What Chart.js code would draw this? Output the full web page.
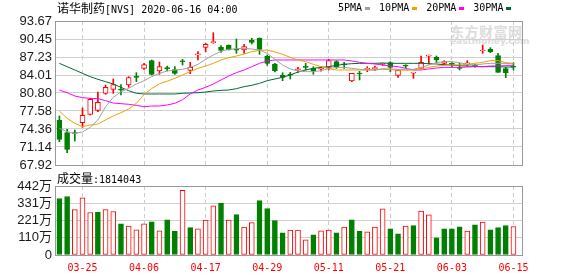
<!DOCTYPE html>
<html>
<head>
<meta charset="utf-8">
<script src="https://cdn.jsdelivr.net/npm/chart.js@4.4.1/dist/chart.umd.min.js"></script>
<style>
  body { margin: 0; background: #fff; }
  #wrap { position: relative; width: 578px; height: 276px; overflow: hidden; }
  canvas { position: absolute; left: 0; }
  #main { top: 0; }
  #vol { top: 174px; }
  .txt { position: absolute; white-space: nowrap; color: #000; }
  .cn { font-family: "Noto Sans CJK SC", sans-serif; font-size: 12px; }
  .mono { font-family: "DejaVu Sans Mono", monospace; font-size: 10px; }
  .sq { display: inline-block; width: 5px; height: 3px; vertical-align: middle; margin: 0 9px 0 3px; }
  #wm1 { left: 450px; top: 21px; font-family: "Noto Sans CJK SC"; font-weight: bold; font-size: 14px; color: #dcdcdc; letter-spacing: 0.5px; }
  #wm2 { left: 450px; top: 36px; font-family: "DejaVu Sans"; font-weight: bold; font-size: 9px; color: #dcdcdc; }
</style>
</head>
<body>
<div id="wrap">
  <div class="txt" id="wm1">东方财富网</div>
  <div class="txt" id="wm2">eastmoney.com</div>
  <canvas id="main" width="578" height="178"></canvas>
  <canvas id="vol" width="578" height="102"></canvas>
  <div class="txt" style="left:57px;top:0px;line-height:16px"><span class="cn">诺华制药</span><span class="mono">[NVS] 2020-06-16 04:00</span></div>
  <div class="txt mono" style="left:338px;top:2px;line-height:12px">5PMA<span class="sq" style="background:#a0a0a0"></span>10PMA<span class="sq" style="background:#f0a000"></span>20PMA<span class="sq" style="background:#ff00ff"></span>30PMA<span class="sq" style="background:#006a35"></span></div>
  <div class="txt" id="volLabel" style="left:57px;top:170px;line-height:16px"><span class="cn">成交量</span><span class="mono" id="volNum"></span></div>
</div>
<script>
// trading days shown on the chart
const dates = ['03-20','03-23','03-24','03-25','03-26','03-27','03-30','03-31','04-01','04-02',
  '04-03','04-06','04-07','04-08','04-09','04-13','04-14','04-15','04-16','04-17',
  '04-20','04-21','04-22','04-23','04-24','04-27','04-28','04-29','04-30','05-01',
  '05-04','05-05','05-06','05-07','05-08','05-11','05-12','05-13','05-14','05-15',
  '05-18','05-19','05-20','05-21','05-22','05-26','05-27','05-28','05-29','06-01',
  '06-02','06-03','06-04','06-05','06-08','06-09','06-10','06-11','06-12','06-15'];

const openP = [75.97,73.70,73.70,75.49,76.98,77.70,80.74,81.45,81.40,82.22,
  83.65,85.21,86.58,84.73,85.20,84.97,86.45,84.85,87.62,88.96,
  89.80,88.96,89.38,88.52,88.48,90.27,90.63,87.41,85.98,84.01,
  84.05,84.95,85.42,85.20,85.05,85.38,86.40,85.90,82.94,84.30,
  85.02,85.15,85.92,86.22,83.95,85.70,84.35,85.20,87.40,87.17,
  86.10,86.00,85.30,86.00,85.70,88.30,88.66,87.47,85.15,85.50];
const highP = [76.68,74.30,74.18,78.11,79.84,80.97,82.22,83.30,82.29,83.71,
  84.43,86.10,86.70,86.34,85.62,85.50,86.81,86.28,88.19,89.68,
  91.58,89.26,89.38,90.45,89.50,90.57,90.63,87.59,86.10,84.43,
  84.49,85.38,86.10,85.50,85.50,86.81,86.58,86.30,84.31,84.67,
  85.50,85.62,86.15,86.40,84.91,85.85,84.43,87.41,87.59,87.41,
  86.58,86.22,86.10,86.58,85.90,89.38,88.90,87.89,85.38,86.22];
const lowP = [72.09,70.13,72.21,74.66,76.86,77.46,80.56,80.74,80.44,81.81,
  82.82,85.03,84.01,84.13,84.73,84.13,85.80,84.25,86.70,88.19,
  89.68,88.07,88.48,87.89,87.89,89.56,87.71,85.74,84.55,83.00,
  83.30,84.43,84.91,84.13,84.70,84.91,85.20,85.20,82.82,83.12,
  84.61,84.79,85.70,84.61,83.60,85.30,83.42,85.20,85.98,86.22,
  85.90,85.50,84.91,85.62,85.40,87.89,88.01,84.49,83.54,84.91];
const closeP = [72.51,70.72,73.55,76.80,79.66,79.12,81.81,82.29,81.30,83.54,
  83.58,85.86,84.13,85.50,85.15,84.31,86.38,85.38,87.72,89.50,
  89.86,88.42,88.48,88.46,89.08,89.85,88.60,86.10,84.79,83.60,
  84.00,85.02,85.38,84.79,85.12,86.58,85.50,85.85,84.30,84.20,
  85.08,85.20,86.00,85.38,84.91,85.60,84.43,86.28,87.47,86.70,
  86.40,85.90,85.20,86.10,85.60,88.37,88.19,84.49,84.43,85.40];

// volume in 万 (10k shares)
const volume = [362,375,291,366,272,274,291,278,200,185,
  162,200,213,155,226,151,414,175,168,224,
  315,332,224,259,179,207,349,298,220,142,
  160,160,97,129,155,160,142,179,226,151,
  149,179,295,168,136,185,188,282,257,110,
  168,168,181,153,194,211,162,175,188,181.4043];
const lastVolume = 1814043;

const ma5 = [74.47,73.88,73.58,73.82,74.66,75.97,78.35,80.02,81.03,81.63,
  82.40,83.00,83.71,84.31,84.73,84.91,85.03,85.38,85.92,86.82,
  87.59,88.25,88.60,88.72,88.78,88.66,88.48,87.89,86.82,85.80,
  85.09,84.73,84.61,84.61,84.79,85.15,85.38,85.38,85.20,85.03,
  84.91,84.91,85.15,85.09,85.03,85.03,85.03,85.38,85.80,86.22,
  86.40,86.40,86.22,85.92,85.80,85.98,86.10,86.10,86.10,85.98];
const ma10 = [77.58,76.26,75.37,74.77,75.07,75.25,75.97,76.68,77.28,77.93,
  78.95,80.50,81.60,82.45,82.90,83.42,84.01,84.61,85.20,85.62,
  86.10,86.70,87.11,87.41,87.77,88.19,88.42,88.48,88.13,87.71,
  87.17,86.70,86.40,85.92,85.50,85.15,84.91,84.91,84.91,84.91,
  84.91,84.91,85.03,84.97,84.91,84.85,84.91,85.09,85.38,85.62,
  85.74,85.80,85.80,85.92,86.10,86.28,86.58,86.58,86.22,86.10];
const ma20 = [81.33,80.85,80.26,79.96,79.84,79.78,79.42,79.00,78.89,78.77,
  78.59,78.35,78.47,78.47,78.65,78.95,79.60,80.62,81.33,81.81,
  82.40,83.12,83.83,84.43,84.91,85.50,86.10,86.52,86.70,86.70,
  86.70,86.70,86.70,86.70,86.70,86.70,86.70,86.70,86.52,86.28,
  86.10,85.98,85.80,85.62,85.50,85.20,84.91,84.91,85.09,85.27,
  85.38,85.38,85.38,85.44,85.50,85.50,85.62,85.62,85.68,85.68];
const ma30 = [86.10,85.50,84.91,84.31,83.71,83.24,82.82,82.40,81.81,81.21,
  80.74,80.62,80.62,80.62,80.62,80.62,80.74,80.80,80.85,80.97,
  81.15,81.27,81.33,81.57,81.93,82.17,82.52,83.00,83.30,83.60,
  84.01,84.55,84.91,85.20,85.38,85.50,85.74,85.92,86.04,86.10,
  86.10,86.10,86.16,86.10,86.10,86.10,86.10,86.10,86.04,85.98,
  85.86,85.80,85.68,85.62,85.56,85.50,85.50,85.50,85.44,85.44];

const priceTicks = [93.67,90.45,87.23,84.01,80.80,77.58,74.36,71.14,67.92];
const volTicks = [0,110,221,331,442];
const volTickLabels = ['0','110万','221万','331万','442万'];
const xTickLabels = ['03-25','04-06','04-17','04-29','05-11','05-21','06-03','06-15'];

const RED = '#ff0000', GREEN = '#008000';
const up = closeP.map((c, i) => c >= openP[i]);
const volUp = closeP.map((c, i) => i === 0 ? c >= openP[0] : c >= closeP[i - 1]);
const xTickIdx = xTickLabels.map(l => dates.indexOf(l));

document.getElementById('volNum').textContent = ':' + lastVolume;

// outline round the plot area
const frame = {
  id: 'frame',
  afterDatasetsDraw(c) {
    const a = c.chartArea, ctx = c.ctx;
    ctx.save();
    ctx.strokeStyle = '#999';
    ctx.lineWidth = 1;
    ctx.strokeRect(a.left + 0.5, a.top + 0.5, a.width - 1, a.height);
    ctx.restore();
  }
};

function xAxis(showLabels) {
  return {
    type: 'linear', min: -0.573, max: 60.24, bounds: 'data', offset: false,
    afterBuildTicks: s => { s.ticks = xTickIdx.map(v => ({ value: v })); },
    grid: { color: '#cccccc', drawTicks: false, offset: false },
    border: { display: false, dash: [4, 3] },
    ticks: {
      display: showLabels, autoSkip: false, maxRotation: 0, padding: 7,
      color: RED, font: { family: '"DejaVu Sans Mono"', size: 10 },
      callback: v => dates[v]
    },
    afterFit: s => { s.height = showLabels ? 21 : 0; }
  };
}

const yFont = { family: '"Liberation Sans", "Noto Sans CJK SC"', size: 13 };

const idx = dates.map((d, i) => i);
const line = (arr, color) => ({
  type: 'line', data: arr.map((v, i) => ({ x: i, y: v })),
  borderColor: color, borderWidth: 1, pointRadius: 0, tension: 0, order: 0
});

new Chart(document.getElementById('main'), {
  type: 'bar',
  data: {
    datasets: [
      {
        // wicks
        data: idx.map(i => ({ x: i, y: [lowP[i], highP[i]] })),
        backgroundColor: up.map(u => u ? RED : GREEN),
        barThickness: 1, grouped: false, order: 2
      },
      {
        // bodies
        data: idx.map(i => ({ x: i, y: [openP[i], closeP[i]] })),
        backgroundColor: up.map(u => u ? '#ffffff' : GREEN),
        borderColor: up.map(u => u ? RED : GREEN),
        borderWidth: 1, borderSkipped: false, minBarLength: 1,
        barThickness: 5, grouped: false, order: 1
      },
      line(ma5, '#a0a0a0'),
      line(ma10, '#f0a000'),
      line(ma20, '#ff00ff'),
      line(ma30, '#006a35')
    ]
  },
  options: {
    responsive: false, animation: false, events: [],
    layout: { padding: { top: 21, right: 55, bottom: 13, left: 0 } },
    plugins: { legend: { display: false }, tooltip: { enabled: false } },
    scales: {
      x: xAxis(false),
      y: {
        min: 67.92, max: 93.67, bounds: 'data',
        afterBuildTicks: s => { s.ticks = priceTicks.map(v => ({ value: v })); },
        grid: { color: '#d0d0d0', drawTicks: false },
        border: { display: false },
        ticks: { autoSkip: false, padding: 3, color: '#1a1a1a', font: yFont, callback: v => v.toFixed(2) },
        afterFit: s => { s.width = 55; }
      }
    }
  },
  plugins: [frame]
});

new Chart(document.getElementById('vol'), {
  type: 'bar',
  data: {
    datasets: [{
      data: idx.map(i => ({ x: i, y: volume[i] })),
      backgroundColor: volUp.map(u => u ? '#ffffff' : GREEN),
      borderColor: volUp.map(u => u ? RED : GREEN),
      borderWidth: 1, borderSkipped: false, barThickness: 5, grouped: false
    }]
  },
  options: {
    responsive: false, animation: false, events: [],
    layout: { padding: { top: 12, right: 55, bottom: 0, left: 0 } },
    plugins: { legend: { display: false }, tooltip: { enabled: false } },
    scales: {
      x: xAxis(true),
      y: {
        min: 0, max: 442, bounds: 'data',
        afterBuildTicks: s => { s.ticks = volTicks.map(v => ({ value: v })); },
        grid: { color: '#d0d0d0', drawTicks: false },
        border: { display: false },
        ticks: { autoSkip: false, padding: 3, color: '#1a1a1a', font: yFont, callback: (v) => volTickLabels[volTicks.indexOf(v)] },
        afterFit: s => { s.width = 55; }
      }
    }
  },
  plugins: [frame]
});
</script>
</body>
</html>
